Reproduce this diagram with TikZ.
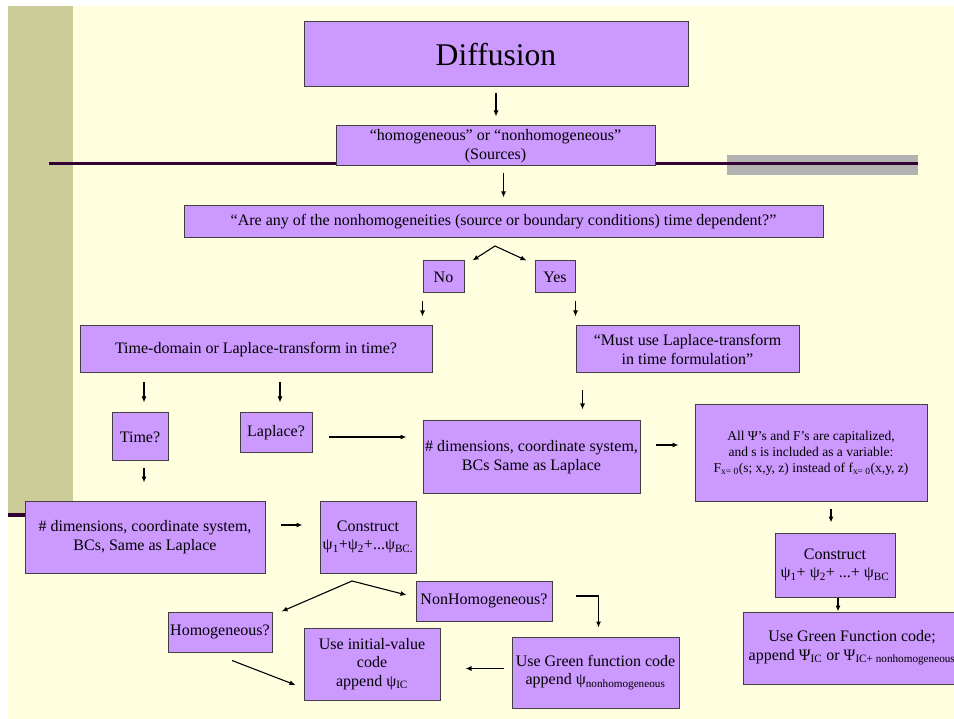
\documentclass[tikz,border=0pt]{standalone}
\usepackage{fontspec}
\setmainfont{Liberation Serif}
\usetikzlibrary{arrows.meta}
\definecolor{slidebg}{HTML}{FFFFE0}
\definecolor{sidebar}{HTML}{CCCC99}
\definecolor{boxfill}{HTML}{CC99FF}
\definecolor{rule}{HTML}{330033}
\definecolor{rulebar}{HTML}{B2B2B2}

\begin{document}
\begin{tikzpicture}[x=1pt, y=-1pt, every node/.style={font=\fontsize{16}{18.5}\selectfont},
    box/.style={draw=black!75, line width=1pt, fill=boxfill, inner sep=0pt, align=center},
    arr/.style={-{Latex[length=6pt,width=5pt]}, line width=1.1pt}]
    \useasboundingbox (0,0) rectangle (954,719);
    \clip (0,0) rectangle (954,719);
    \fill[white] (0,0) rectangle (954,719);
    \fill[slidebg] (8,6) rectangle (954,719);
    \fill[sidebar] (8,6) rectangle (73,513);
    \fill[rulebar] (727,155) rectangle (918,175);
    \draw[rule, line width=3pt] (49,163.5) -- (918,163.5);
    \draw[rule, line width=4pt] (8,515) -- (60,515);

    \node[box, minimum width=384, minimum height=65, font=\fontsize{31.6}{36}\selectfont] (diff) at (496,54.5) {Diffusion};
    \node[box, minimum width=319, minimum height=40] (hom) at (495.5,146) {“homogeneous” or “nonhomogeneous”\\(Sources)};
    \node[box, minimum width=639, minimum height=32] (ask) at (503.5,222) {“Are any of the nonhomogeneities (source or boundary conditions) time dependent?”};
    \node[box, minimum width=41, minimum height=32] (no) at (443.5,277) {No};
    \node[box, minimum width=40, minimum height=32] (yes) at (555,277) {Yes};
    \node[box, minimum width=352, minimum height=47] (tdom) at (256,349.5) {Time-domain or Laplace-transform in time?};
    \node[box, minimum width=223, minimum height=47] (must) at (687.5,349.5) {“Must use Laplace-transform\\in time formulation”};
    \node[box, minimum width=56, minimum height=48] (time) at (140,437) {Time?};
    \node[box, minimum width=72, minimum height=40] (lap) at (276,433) {Laplace?};
    \node[box, minimum width=217, minimum height=72] (dimr) at (531.5,457) {\# dimensions, coordinate system,\\BCs Same as Laplace};
    \node[box, minimum width=232, minimum height=96, font=\fontsize{13.5}{16}\selectfont] (allpsi) at (811,453) {All Ψ's and F's are capitalized,\\and s is included as a variable:\\F\textsubscript{x= 0}(s; x,y, z) instead of f\textsubscript{x= 0}(x,y, z)};
    \node[box, minimum width=120, minimum height=64] (conr) at (835,565) {Construct\\ψ\textsubscript{1}+ ψ\textsubscript{2}+ ...+ ψ\textsubscript{BC}};
    \node[box, minimum width=218, minimum height=72] (greenr) at (852,648) {Use Green Function code;\\append Ψ\textsubscript{IC} or Ψ\textsubscript{IC+ nonhomogeneous}};
    \node[box, minimum width=240, minimum height=72] (diml) at (145,537) {\# dimensions, coordinate system,\\BCs, Same as Laplace};
    \node[box, minimum width=96, minimum height=72] (conl) at (368,537) {Construct\\ψ\textsubscript{1}+ψ\textsubscript{2}+...ψ\textsubscript{BC.}};
    \node[box, minimum width=104, minimum height=40] (homq) at (220,632) {Homogeneous?};
    \node[box, minimum width=136, minimum height=40] (nonq) at (484,601) {NonHomogeneous?};
    \node[box, minimum width=167, minimum height=71] (greenl) at (595.5,672.5) {Use Green function code\\append ψ\textsubscript{nonhomogeneous}};
    \node[box, minimum width=136, minimum height=72] (init) at (372,664) {Use initial-value\\code\\append ψ\textsubscript{IC}};

    \coordinate (fork1) at (495,246);
    \coordinate (fork2) at (352,581);

    \draw[arr, shorten <=6pt, shorten >=9pt] (diff.south) -- (diff.south |- hom.north);
    \draw[arr, shorten <=7pt, shorten >=8pt] ([xshift=8pt]hom.south) -- ([xshift=8pt]hom.south |- ask.north);
    \draw[arr] (fork1) -- ([xshift=8pt]no.north east);
    \draw[arr] (fork1) -- ([xshift=-8pt]yes.north west);
    \draw[arr, shorten <=8pt, shorten >=9pt] (no.south west) -- (no.south west |- tdom.north);
    \draw[arr, shorten <=8pt, shorten >=9pt] (yes.south east) -- (yes.south east |- must.north);
    \draw[arr, shorten <=9pt, shorten >=10pt] ([xshift=4pt]time.north |- tdom.south) -- ([xshift=4pt]time.north);
    \draw[arr, shorten <=9pt, shorten >=10pt] ([xshift=4pt]lap.north |- tdom.south) -- ([xshift=4pt]lap.north);
    \draw[arr, shorten <=7pt, shorten >=18pt] ([xshift=4pt]time.south) -- ([xshift=4pt]time.south |- diml.north);
    \draw[arr, shorten <=16pt, shorten >=16pt] ([yshift=-4pt]lap.east) -- ([yshift=-4pt]lap.east -| dimr.west);
    \draw[arr, shorten <=17pt, shorten >=11pt] ([xshift=7pt]must.south west) -- ([xshift=7pt]must.south west |- dimr.north);
    \draw[arr, shorten <=15pt, shorten >=16pt] ([yshift=12pt]dimr.east) -- ([yshift=12pt]dimr.east -| allpsi.west);
    \draw[arr, shorten <=7pt, shorten >=10pt] ([xshift=-4pt]conr.north |- allpsi.south) -- ([xshift=-4pt]conr.north);
    \draw[arr] ([xshift=3pt]conr.south) -- ([xshift=3pt]conr.south |- greenr.north);
    \draw[arr, shorten <=15pt, shorten >=17pt] ([yshift=12pt]diml.east) -- ([yshift=12pt]diml.east -| conl.west);
    \draw[arr] (fork2) -- ([xshift=9pt]homq.north east);
    \draw[arr] (fork2) -- ([shift={(-9,-6)}]nonq.west);
    \draw[arr] ([shift={(23,-5)}]nonq.east) -| ([shift={(87,-9)}]greenl.north west);
    \draw[arr, shorten <=8pt, shorten >=25pt] ([yshift=4pt]greenl.west) -- ([yshift=4pt]greenl.west -| init.east);
    \draw[arr] ([shift={(12,8)}]homq.south) -- ([shift={(-8,21)}]init.west);
\end{tikzpicture}
\end{document}
